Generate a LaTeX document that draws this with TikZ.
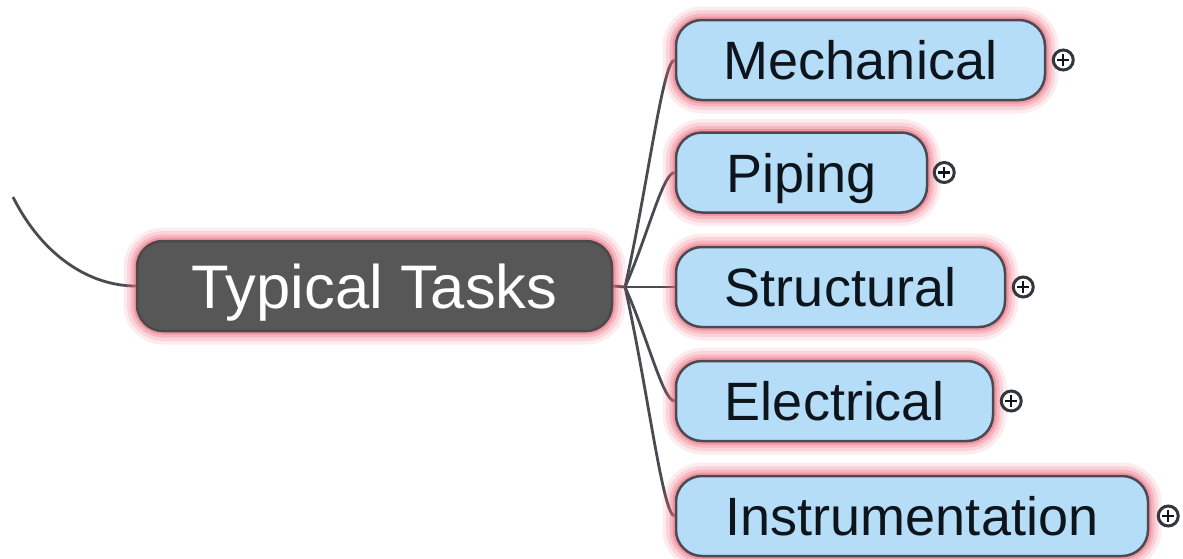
\documentclass[tikz,border=0pt]{standalone}
\usepackage{fontspec}
\setmainfont{Liberation Sans}
\usetikzlibrary{calc}
\pgfdeclarelayer{background}
\pgfsetlayers{background,main}

\definecolor{topicfill}{HTML}{575757}
\definecolor{subfill}{HTML}{B5DDF8}
\definecolor{edgegray}{HTML}{4A4A52}
\definecolor{halo}{HTML}{EC6478}
\definecolor{inktext}{HTML}{0E141C}

\begin{document}
\begin{tikzpicture}[x=1pt,y=-1pt,
  halo/.style={
    preaction={draw=halo, draw opacity=0.12, line width=27pt},
    preaction={draw=halo, draw opacity=0.18, line width=20pt},
    preaction={draw=halo, draw opacity=0.26, line width=13pt},
    preaction={draw=halo, draw opacity=0.40, line width=7pt}},
  box/.style={halo, rounded corners=26pt, inner sep=0pt, text depth=0pt, line width=2.5pt},
  topic/.style={box, fill=topicfill, draw=topicfill!85!black, text=white,
    font=\fontsize{61.5}{66}\selectfont, text height=44pt},
  sub/.style={box, fill=subfill, draw=edgegray, text=inktext,
    font=\fontsize{54}{60}\selectfont, text height=39pt, minimum height=80pt},
  link/.style={draw=edgegray, line width=2.8pt},
  expander/.style={circle, draw=inktext!85, line width=3pt, fill=white,
    minimum size=20pt, inner sep=0pt,
    path picture={\draw[inktext, line width=2.3pt]
      ([xshift=-5.8pt]path picture bounding box.center) -- ([xshift=5.8pt]path picture bounding box.center)
      ([yshift=-5.8pt]path picture bounding box.center) -- ([yshift=5.8pt]path picture bounding box.center);}}
]
\useasboundingbox (0,0) rectangle (1183,558);

% central topic
\node[topic, minimum width=475pt, minimum height=90pt] (tasks) at (374.5,286) {Typical Tasks};

% sub-topics
\node[sub, minimum width=369pt] (mech)  at (860.5,60)  {Mechanical};
\node[sub, minimum width=251pt] (pipe)  at (801.5,172.5) {Piping};
\node[sub, minimum width=329pt] (struc) at (840.5,287) {Structural};
\node[sub, minimum width=317pt] (elec)  at (834.5,401) {Electrical};
\node[sub, minimum width=472pt] (instr) at (912,516)   {Instrumentation};

% collapse markers
\node[expander] (mechx)  at ([xshift=17pt]mech.east)  {};
\node[expander] (pipex)  at ([xshift=16pt]pipe.east)  {};
\node[expander] (strucx) at ([xshift=17pt]struc.east) {};
\node[expander] (elecx)  at ([xshift=17pt]elec.east)  {};
\node[expander] (instrx) at ([xshift=19pt]instr.east) {};

\coordinate (fork) at (625,287);
\coordinate (parentend) at (13,197);

\begin{pgfonlayer}{background}
  \draw[link] (parentend) .. controls +(30,60) and +(-45,0) .. (tasks.west);
  \draw[link] (tasks.east) -- (fork);
  \draw[link] (fork) .. controls +(23,-102) and +(-12,0) .. (mech.west);
  \draw[link] (fork) .. controls +(23,-52) and +(-12,0) .. (pipe.west);
  \draw[link] (fork) -- (struc.west);
  \draw[link] (fork) .. controls +(23,51) and +(-12,0) .. (elec.west);
  \draw[link] (fork) .. controls +(23,103) and +(-12,0) .. (instr.west);
\end{pgfonlayer}
\end{tikzpicture}
\end{document}
